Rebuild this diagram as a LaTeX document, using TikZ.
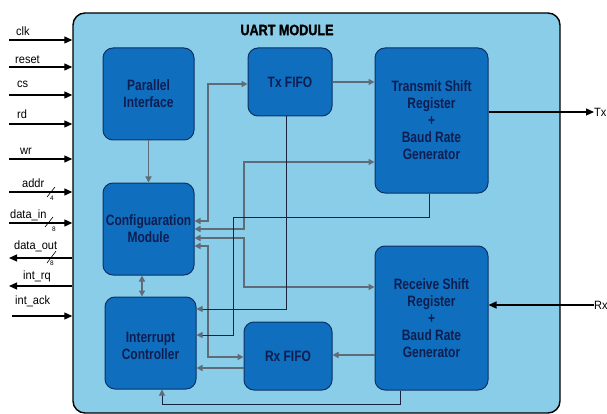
\documentclass[tikz,border=0pt]{standalone}
\usepackage{fontspec}
\setmainfont{Liberation Sans}
\newfontfamily\boxfont[FakeStretch=0.8]{Liberation Sans}
\newfontfamily\sigfont[FakeStretch=0.92]{Liberation Sans}
\newfontfamily\titlefont[FakeStretch=0.84,FakeBold=1.5]{Liberation Sans}
\usetikzlibrary{arrows.meta,calc}
\definecolor{outerfill}{RGB}{137,205,233}
\definecolor{boxfill}{RGB}{16,110,190}
\definecolor{boxline}{RGB}{12,50,100}
\definecolor{boxtext}{RGB}{14,30,80}
\definecolor{gconn}{RGB}{95,108,120}
\definecolor{dconn}{RGB}{25,35,65}
\begin{document}
\begin{tikzpicture}[x=1pt,y=-1pt,
  blk/.style={draw=boxline,line width=1pt,fill=boxfill,rounded corners=10pt,text=boxtext,
    font=\boxfont\bfseries\fontsize{15}{17}\selectfont,align=center,inner sep=0pt},
  gl/.style={draw=gconn,line width=1.4pt},
  dl/.style={draw=dconn,line width=1pt},
  gt/.style={-{Triangle[length=6pt,width=6pt,color=gconn]}},
  gtt/.style={{Triangle[length=6pt,width=6pt,color=gconn]}-{Triangle[length=6pt,width=6pt,color=gconn]}},
  sig/.style={draw=black,line width=1.2pt,-{Triangle[length=8pt,width=7pt]}},
  sigl/.style={anchor=base west,inner sep=0pt,font=\sigfont\fontsize{12}{14}\selectfont},
  num/.style={inner sep=0pt,font=\fontsize{6.5}{7}\selectfont},
  ]
\useasboundingbox (0,0) rectangle (607,414);
% outer module
\node[draw=black,line width=1.4pt,fill=outerfill,rounded corners=12pt,
  minimum width=487pt,minimum height=400pt,inner sep=0pt] (uart) at (316.5,213) {};
\node[font=\titlefont\bfseries\fontsize{15}{17}\selectfont] (title) at (287,30) {UART MODULE};
% blocks
\node[blk,minimum width=91pt,minimum height=92pt] (pi) at (148.5,94) {Parallel\\Interface};
\node[blk,minimum width=84pt,minimum height=68pt] (txf) at (290,82) {Tx FIFO};
\node[blk,minimum width=113pt,minimum height=145pt] (tsr) at (431.5,120.5) {Transmit Shift\\Register\\+\\Baud Rate\\Generator};
\node[blk,minimum width=91pt,minimum height=92pt] (cfg) at (148.5,229) {Configuaration\\Module};
\node[blk,minimum width=91pt,minimum height=92pt] (ic) at (150.5,343) {};
\node[font=\boxfont\bfseries\fontsize{15}{17}\selectfont,text=boxtext,align=center,inner sep=0pt] (ict) at (150.5,346) {Interrupt\\Controller};
\node[blk,minimum width=88pt,minimum height=68pt] (rxf) at (288,356) {Rx FIFO};
\node[blk,minimum width=113pt,minimum height=144pt] (rsr) at (431.5,318) {Receive Shift\\Register\\+\\Baud Rate\\Generator};
% internal connections
\draw[gl,gt] (pi) -- (cfg);
\draw[gl,gtt] (142,0 |- cfg.south) -- (142,0 |- ic.north);
\draw[gl,gt] (txf.east) -- (txf.east -| tsr.west);
\draw[gl,gtt] (cfg.east |- 0,221) -| (208,84) -- (txf.west |- 0,84);
\draw[gl,gtt] (cfg.east |- 0,229) -| (244,162) -- (tsr.west |- 0,162);
\draw[gl,gtt] (cfg.east |- 0,238) -| (244,287) -- (rsr.west |- 0,287);
\draw[gl,gtt] (cfg.east |- 0,246) -| (208,357) -- (rxf.west |- 0,357);
\draw[dl,gt] (429,0 |- tsr.south) |- (233,217) |- (ic.east |- 0,335);
\draw[dl,gt] (286,0 |- txf.south) |- (ic.east |- 0,309);
\draw[gl,gt] (rsr.west |- 0,355) -- (rxf.east |- 0,355);
\draw[gl,gt] (rxf.west |- 0,368) -- (ic.east |- 0,368);
\draw[dl,gt] (400,0 |- rsr.south) |- (162,404) -- (162,0 |- ic.south);
% Tx / Rx
\node[anchor=west,inner sep=0pt,font=\sigfont\fontsize{12}{14}\selectfont] (txl) at (594,112) {Tx};
\draw[sig] (tsr.east |- txl) -- (txl.west);
\node[anchor=west,inner sep=0pt,font=\sigfont\fontsize{12}{14}\selectfont] (rxl) at (594,305) {Rx};
\draw[sig] (rxl.west) -- (rsr.east |- rxl);
% left signals
\coordinate (clk0) at (9,40);
\coordinate (rst0) at (9,67);
\coordinate (cs0) at (9,95);
\coordinate (rd0) at (9,124);
\coordinate (wr0) at (9,159);
\coordinate (adr0) at (9,192);
\coordinate (din0) at (9,223);
\coordinate (dout0) at (9,258);
\coordinate (irq0) at (9,286);
\coordinate (iack0) at (12,316);
\draw[sig] (clk0) -- (uart.west |- clk0);
\draw[sig] (rst0) -- (uart.west |- rst0);
\draw[sig] (cs0) -- (uart.west |- cs0);
\draw[sig] (rd0) -- (uart.west |- rd0);
\draw[sig] (wr0) -- (uart.west |- wr0);
\draw[sig] (adr0) -- (uart.west |- adr0);
\draw[sig] (din0) -- (uart.west |- din0);
\draw[sig] (uart.west |- dout0) -- (dout0);
\draw[sig] (uart.west |- irq0) -- (irq0);
\draw[sig] (iack0) -- (uart.west |- iack0);
\node[sigl] (lclk) at (16,36) {clk};
\node[sigl] (lrst) at (15,64) {reset};
\node[sigl] (lcs) at (17,88) {cs};
\node[sigl] (lrd) at (17,119) {rd};
\node[sigl] (lwr) at (20,155) {wr};
\node[sigl] (ladr) at (22,187) {addr};
\node[sigl] (ldin) at (10,218) {data\_in};
\node[sigl] (ldout) at (14,249) {data\_out};
\node[sigl] (lirq) at (23,279) {int\_rq};
\node[sigl] (liack) at (15,304) {int\_ack};
% bus width marks
\draw[line width=0.6pt] (47,197) -- (55,187);
\node[num] (n4) at (52,198) {4};
\draw[line width=0.6pt] (45,227) -- (53,217);
\node[num] (n8a) at (54,229) {8};
\draw[line width=0.6pt] (47,263) -- (56,251);
\node[num] (n8b) at (52,263) {8};
\end{tikzpicture}
\end{document}
